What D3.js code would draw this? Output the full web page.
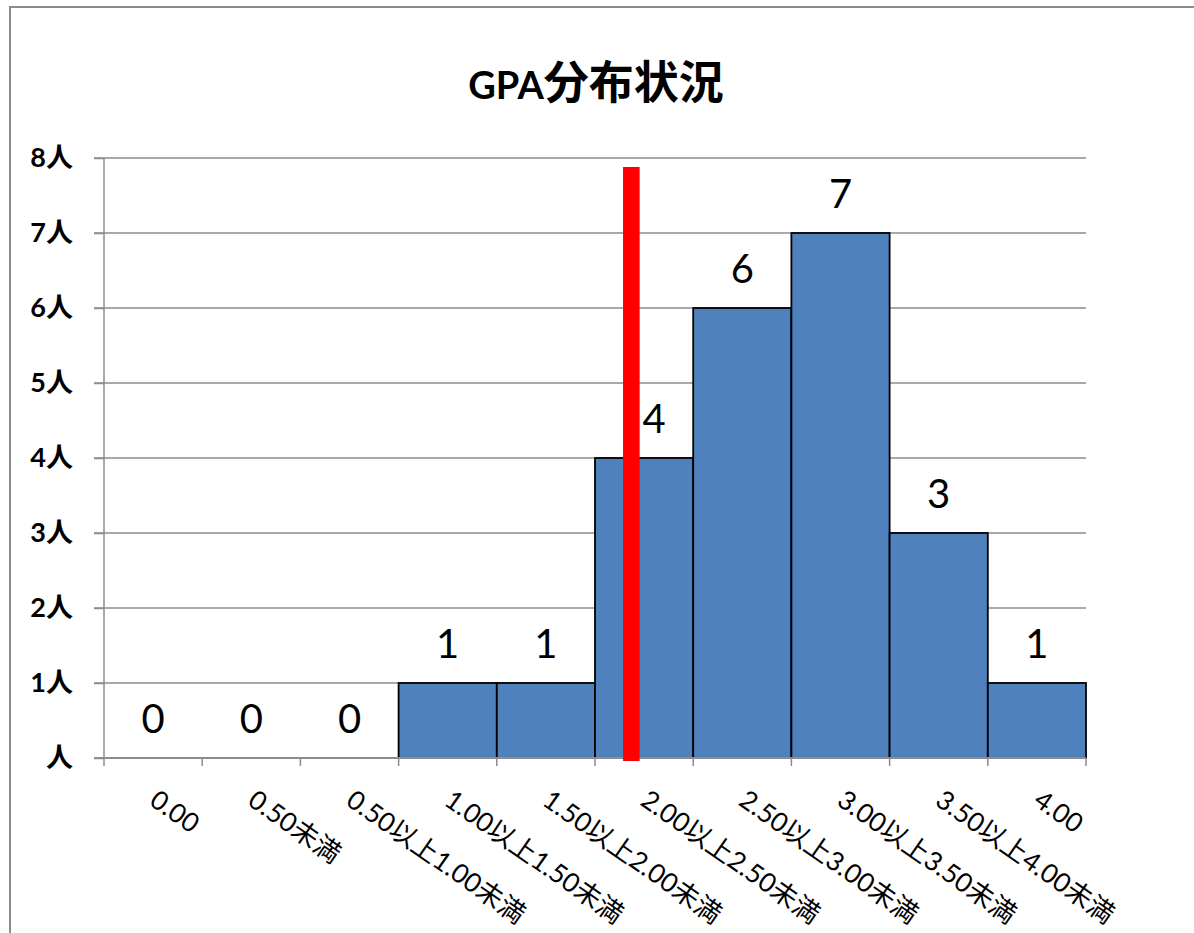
<!DOCTYPE html>
<html>
<head>
<meta charset="utf-8">
<script src="https://cdn.jsdelivr.net/npm/d3@7"></script>
<style>
  html, body { margin: 0; padding: 0; background: #fff; }
  svg { display: block; }
</style>
</head>
<body>
<svg id="chart" width="1194" height="933"></svg>
<script>
// ---- data ----
const titleLatin = "GPA";
const titleCjk = "分布状況";
const categories = [
  "0.00", "0.50未満", "0.50以上1.00未満", "1.00以上1.50未満", "1.50以上2.00未満",
  "2.00以上2.50未満", "2.50以上3.00未満", "3.00以上3.50未満", "3.50以上4.00未満", "4.00"
];
const counts = [0, 0, 0, 1, 1, 4, 6, 7, 3, 1];
const yTickValues = [0, 1, 2, 3, 4, 5, 6, 7, 8];
const yUnit = "人";
// red marker line: position along the category axis (in category widths) and its top value
const markerAt = 5.37;
const markerTop = 7.88;

// ---- layout ----
const svg = d3.select("#chart");
const W = 1194, H = 933;
const plot = { left: 104, right: 1086, top: 158, bottom: 758 };
const latin = "Lato, 'Noto Sans CJK JP', sans-serif";

svg.append("rect").attr("width", W).attr("height", H).attr("fill", "#fff");
// outer chart border
svg.append("rect").attr("x", 10).attr("y", 7).attr("width", W + 20).attr("height", H + 20)
  .attr("fill", "none").attr("stroke", "#8c8c8c").attr("stroke-width", 2);

const x = d3.scaleBand().domain(categories).range([plot.left, plot.right]).padding(0);
const xPos = d3.scaleLinear().domain([0, categories.length]).range([plot.left, plot.right]);
const y = d3.scaleLinear().domain([0, 8]).range([plot.bottom, plot.top]);

// title
const t = svg.append("text").attr("x", 596).attr("y", 99).attr("text-anchor", "middle")
  .attr("font-family", latin).attr("font-weight", "bold").attr("fill", "#000");
t.append("tspan").attr("font-size", 38).text(titleLatin);
t.append("tspan").attr("font-size", 45).attr("font-family", "'Noto Sans CJK JP', sans-serif").text(titleCjk);

// gridlines
svg.append("g").selectAll("line").data(yTickValues.filter(d => d > 0)).join("line")
  .attr("x1", plot.left - 10).attr("x2", plot.right)
  .attr("y1", d => y(d)).attr("y2", d => y(d))
  .attr("stroke", "#8c8c8c").attr("stroke-width", 1.5);

// y axis
const yAxis = d3.axisLeft(y).tickValues(yTickValues).tickSize(10).tickPadding(21)
  .tickFormat(d => (d === 0 ? "" : d) + yUnit);
const gy = svg.append("g").attr("transform", `translate(${plot.left},0)`).call(yAxis);
gy.select(".domain").attr("stroke", "#8c8c8c").attr("stroke-width", 1.5).attr("d", `M0,${plot.top}V${plot.bottom}`);
gy.selectAll(".tick line").attr("stroke", "#8c8c8c").attr("stroke-width", 1.5);
gy.selectAll(".tick text").attr("font-family", latin).attr("font-weight", "bold")
  .attr("font-size", 27).attr("fill", "#000");

// bars
svg.append("g").selectAll("rect").data(counts).join("rect")
  .attr("x", (d, i) => x(categories[i]))
  .attr("width", x.bandwidth())
  .attr("y", d => y(d))
  .attr("height", d => y(0) - y(d))
  .attr("fill", "#4f81bd")
  .attr("stroke", d => d > 0 ? "#000" : "none")
  .attr("stroke-width", 1.8);

// x axis
const gx = svg.append("g").attr("transform", `translate(0,${plot.bottom})`);
gx.append("line").attr("x1", plot.left - 10).attr("x2", plot.right).attr("y1", 0).attr("y2", 0)
  .attr("stroke", "#8c8c8c").attr("stroke-width", 1.8);
gx.selectAll("line.tk").data(d3.range(categories.length + 1)).join("line").attr("class", "tk")
  .attr("x1", d => xPos(d)).attr("x2", d => xPos(d)).attr("y1", 0).attr("y2", 8)
  .attr("stroke", "#8c8c8c").attr("stroke-width", 1.5);
gx.selectAll("text").data(categories).join("text")
  .attr("transform", d => `translate(${x(d) + x.bandwidth() / 2 - 5},46) rotate(35)`)
  .attr("font-family", latin).attr("font-size", 26.5).attr("fill", "#000")
  .text(d => d);

// marker line
const mx = xPos(markerAt);
svg.append("rect").attr("x", mx - 8.3).attr("width", 16.6)
  .attr("y", y(markerTop)).attr("height", y(0) + 3 - y(markerTop))
  .attr("fill", "#ff0000");

// data labels
svg.append("g").selectAll("text").data(counts).join("text")
  .attr("x", (d, i) => {
    const cx = x(categories[i]) + x.bandwidth() / 2;
    return Math.abs(cx - mx) < 20 ? cx + 10 : cx;
  })
  .attr("y", d => y(d) - 25)
  .attr("text-anchor", "middle")
  .attr("font-family", latin).attr("font-size", 40).attr("fill", "#000")
  .text(d => d);
</script>
</body>
</html>
